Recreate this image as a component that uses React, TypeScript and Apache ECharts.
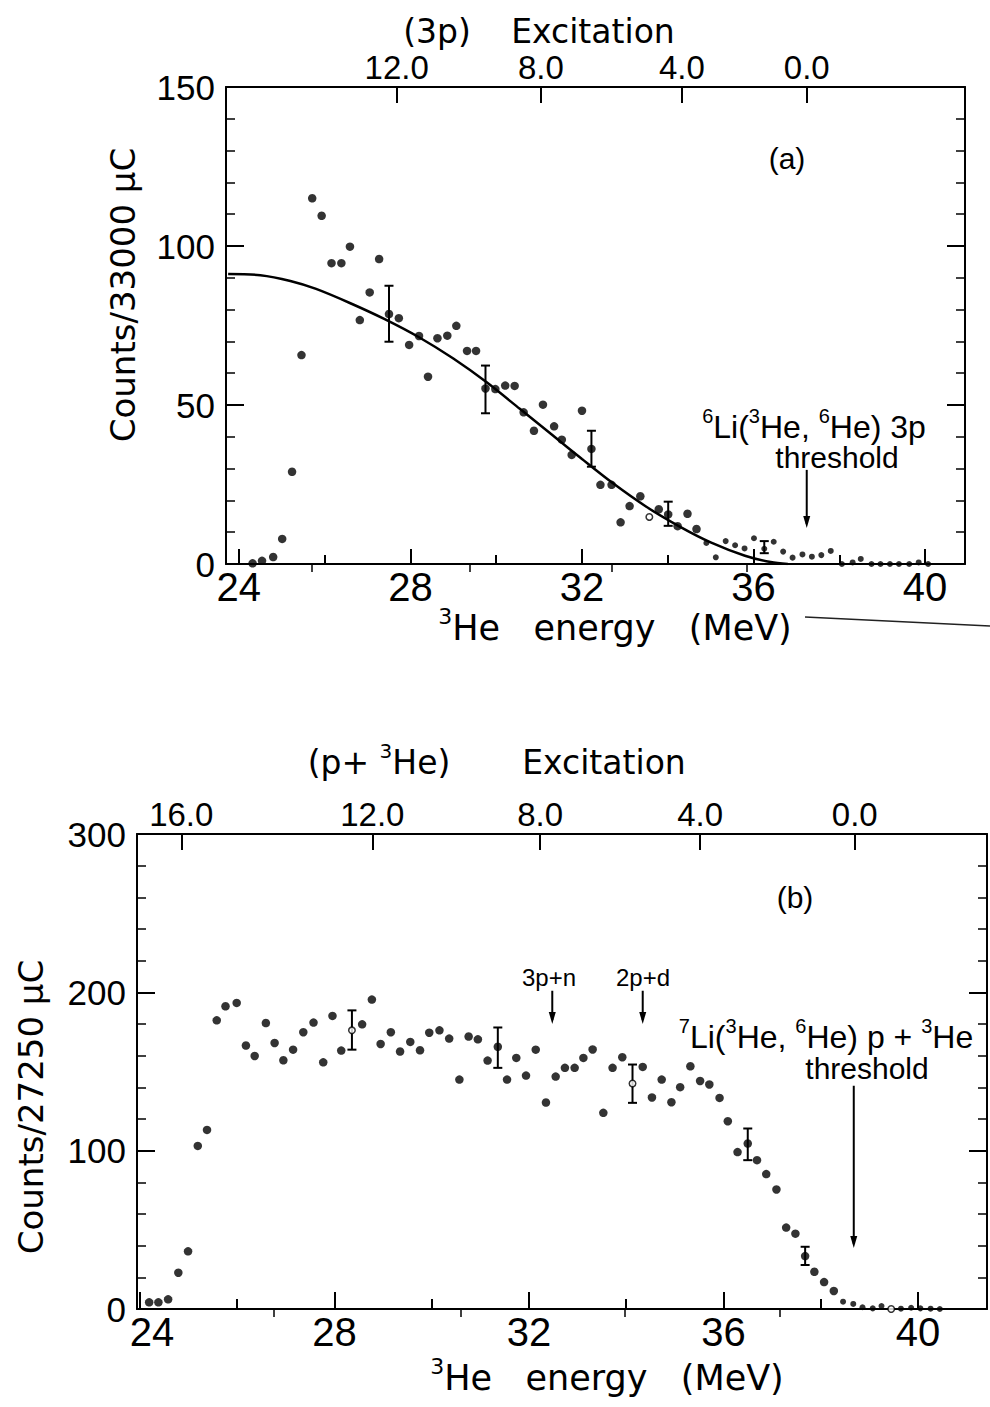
import React, { useEffect, useRef } from 'react';
import * as echarts from 'echarts';

// ---------- Panel (a): 6Li(3He,6He) ----------
const pointsA: number[][] = [
  [24.32, 0.2], [24.54, 1.0], [24.80, 2.2], [25.01, 7.9], [25.24, 29.0], [25.46, 65.7],
  [25.71, 115.0], [25.93, 109.5], [26.16, 94.6], [26.39, 94.6], [26.59, 99.8], [26.82, 76.7],
  [27.05, 85.4], [27.27, 95.9], [27.50, 78.6], [27.73, 77.3], [27.97, 68.9], [28.20, 71.7],
  [28.41, 58.9], [28.63, 71.0], [28.86, 71.8], [29.07, 74.9], [29.32, 67.0], [29.53, 67.0],
  [29.75, 55.2], [29.98, 55.0], [30.21, 56.1], [30.43, 56.0], [30.64, 47.7], [30.88, 41.9],
  [31.09, 50.1], [31.35, 43.3], [31.53, 39.1], [31.76, 34.3], [32.00, 48.2], [32.22, 36.2],
  [32.43, 24.9], [32.69, 24.9], [32.90, 13.1], [33.11, 18.2], [33.36, 21.3], [33.79, 17.2],
  [34.01, 15.6], [34.23, 11.9], [34.46, 15.8], [34.67, 11.0], [34.90, 6.6], [35.12, 2.1],
  [35.35, 7.2], [35.57, 5.9], [35.79, 4.9], [36.01, 8.1], [36.25, 4.8], [36.47, 7.0],
  [36.69, 3.9], [36.91, 2.0], [37.14, 3.0], [37.36, 2.3], [37.58, 2.8], [37.80, 4.1],
  [38.06, 0], [38.31, 0.5], [38.50, 1.6], [38.75, 0], [38.96, 0], [39.18, 0], [39.39, 0],
  [39.63, 0], [39.85, 0.5], [40.07, 0],
];
const openA: number[][] = [[33.57, 14.8]];
const curveA: number[][] = [
  [23.75, 91.2], [24.5, 90.8], [25.2, 89.0], [25.8, 86.5], [26.6, 82.0], [27.4, 77.0],
  [28.2, 71.3], [29.0, 64.6], [29.77, 57.2], [30.55, 48.8], [31.33, 40.3], [32.0, 33.0],
  [32.7, 25.6], [33.5, 18.0], [34.3, 11.6], [35.0, 6.8], [35.8, 2.6], [36.4, 0.6], [36.8, 0],
];
const errorsA: number[][] = [
  [27.50, 69.9, 87.5], [29.75, 47.4, 62.4], [32.22, 30.6, 41.9], [34.01, 12.0, 19.6], [36.25, 3.4, 7.2],
];
const arrowsA: number[][] = [[37.24, 29.6, 11.3]];

// ---------- Panel (b): 7Li(3He,6He) ----------
const pointsB: number[][] = [
  [24.19, 4.2], [24.38, 4.2], [24.58, 6.1], [24.79, 22.9], [24.99, 36.4], [25.19, 103.0],
  [25.38, 113.1], [25.58, 182.3], [25.76, 191.2], [25.99, 193.3], [26.18, 166.4], [26.36, 159.8],
  [26.59, 180.6], [26.77, 168.0], [26.95, 157.1], [27.15, 163.8], [27.36, 174.8], [27.57, 180.9],
  [27.77, 155.8], [27.96, 185.1], [28.14, 163.2], [28.57, 179.8], [28.77, 195.4],
  [28.95, 167.4], [29.16, 174.8], [29.35, 162.6], [29.56, 168.7], [29.76, 163.4], [29.95, 174.5],
  [30.16, 176.0], [30.36, 170.8], [30.57, 144.9], [30.76, 172.1], [30.95, 170.3], [31.15, 156.9],
  [31.36, 165.6], [31.55, 144.9], [31.74, 158.6], [31.94, 147.4], [32.14, 163.8], [32.35, 130.4],
  [32.55, 146.8], [32.74, 152.3], [32.94, 152.3], [33.12, 158.6], [33.31, 163.9], [33.53, 123.9],
  [33.72, 152.3], [33.92, 159.0], [34.34, 152.9], [34.53, 133.6], [34.73, 144.9],
  [34.93, 130.6], [35.11, 140.1], [35.32, 153.3], [35.52, 144.0], [35.71, 141.8], [35.92, 133.3],
  [36.09, 118.6], [36.29, 99.1], [36.50, 104.5], [36.69, 94.0], [36.88, 85.2], [37.09, 75.5],
  [37.29, 51.4], [37.48, 47.6], [37.68, 33.4], [37.87, 23.5], [38.07, 17.0], [38.27, 11.4],
  [38.46, 4.6], [38.67, 3.2], [38.86, 1.1], [39.07, 0.4], [39.25, 1.9], [39.65, 0.2],
  [39.86, 0.8], [40.05, 0.4], [40.26, 0.2], [40.45, 0],
];
const openB: number[][] = [[28.36, 176.0], [34.13, 142.4], [39.45, 0]];
const errorsB: number[][] = [
  [28.36, 163.8, 188.6], [31.36, 152.3, 177.8], [34.13, 130.2, 154.4], [36.50, 94.0, 114.0], [37.68, 27.8, 39.3],
];
const arrowsB: number[][] = [[32.48, 201, 180], [34.34, 201, 180], [38.68, 141, 38.5]];

// ---------- Axes ----------
const energyMajor = [24, 28, 32, 36, 40];
const energyMinor = [26, 30, 34, 38];
const energyRangeA = [23.7, 40.93];
const energyRangeB = [23.94, 41.42];
const countsA = { max: 150, step: 50 };
const countsB = { max: 300, step: 100 };
const excitationLabelsA = ['12.0', '8.0', '4.0', '0.0'];
const excitationMajorEnergyA = [27.68, 31.04, 34.33, 37.24];
const excitationMinorEnergyA = [25.70, 29.38, 32.69, 35.84];
const excitationLabelsB = ['16.0', '12.0', '8.0', '4.0', '0.0'];
const excitationMajorEnergyB = [24.85, 28.78, 32.23, 35.52, 38.70];
const excitationMinorEnergyB = [26.76, 30.59, 33.98, 37.16];

const FONT = '"Liberation Sans", Arial, sans-serif';
const WORD_FONT = '"DejaVu Sans", sans-serif';
const BLACK = '#000';

function nearestLabel(v: number, vals: number[], labels: string[]) {
  let bi = 0;
  let bd = Infinity;
  vals.forEach((x, i) => {
    const d = Math.abs(x - v);
    if (d < bd) { bd = d; bi = i; }
  });
  return labels[bi];
}

function xAxesFor(grid: number, range: number[], exMajor: number[], exMinor: number[], exLabels: string[],
  opts: { bMajorLen: number; bMinorLen: number; shiftFirst: number }) {
  const base = { type: 'value', gridIndex: grid, min: range[0], max: range[1], splitLine: { show: false } };
  const line = { show: true, onZero: false, lineStyle: { color: BLACK, width: 2 } };
  return [
    {
      ...base, position: 'bottom', axisLine: line,
      axisTick: { show: true, inside: true, length: opts.bMajorLen, customValues: energyMajor, lineStyle: { color: BLACK, width: 2 } },
      axisLabel: {
        show: true, customValues: energyMajor, margin: 3, color: BLACK, fontSize: 40, fontFamily: FONT,
        formatter: (v: number) => (Math.abs(v - energyMajor[0]) < 1e-6 && opts.shiftFirst ? '{s|' + energyMajor[0] + '}' : String(Math.round(v))),
        rich: { s: { fontSize: 40, fontFamily: FONT, color: BLACK, padding: [0, 0, 0, opts.shiftFirst * 2] } },
      },
    },
    {
      ...base, position: 'bottom', axisLine: { show: false },
      axisTick: { show: true, inside: true, length: opts.bMinorLen, customValues: energyMinor, lineStyle: { color: BLACK, width: 2 } },
      axisLabel: { show: false },
    },
    {
      ...base, position: 'top', axisLine: line,
      axisTick: { show: true, inside: true, length: 16, customValues: exMajor, lineStyle: { color: BLACK, width: 2 } },
      axisLabel: {
        show: true, customValues: exMajor, margin: 3, color: BLACK, fontSize: 33, fontFamily: FONT,
        formatter: (v: number) => nearestLabel(v, exMajor, exLabels),
      },
    },
    {
      ...base, position: 'top', axisLine: { show: false },
      axisTick: { show: true, inside: true, length: 8, customValues: exMinor, lineStyle: { color: BLACK, width: 1.5 } },
      axisLabel: { show: false },
    },
  ];
}

function yAxesFor(grid: number, counts: { max: number; step: number }, labelPadBottom: number) {
  const base = {
    type: 'value', gridIndex: grid, min: 0, max: counts.max, interval: counts.step,
    splitLine: { show: false },
    axisLine: { show: true, onZero: false, lineStyle: { color: BLACK, width: 2 } },
    axisTick: { show: true, inside: true, length: 18, lineStyle: { color: BLACK, width: 2 } },
    minorTick: { show: true, splitNumber: 5, length: 9, lineStyle: { color: BLACK, width: 1.5 } },
  };
  return [
    {
      ...base, position: 'left',
      axisLabel: { show: true, margin: 11, color: BLACK, fontSize: 35, fontFamily: FONT, padding: [0, 0, labelPadBottom, 0] },
    },
    { ...base, position: 'right', axisLabel: { show: false } },
  ];
}

const errorBarRender = (params: any, api: any) => {
  const x = api.value(0);
  const lo = api.coord([x, api.value(1)]);
  const hi = api.coord([x, api.value(2)]);
  const w = 4.5;
  const st = { stroke: BLACK, lineWidth: 2 };
  return {
    type: 'group',
    children: [
      { type: 'line', shape: { x1: lo[0], y1: lo[1], x2: hi[0], y2: hi[1] }, style: st },
      { type: 'line', shape: { x1: lo[0] - w, y1: lo[1], x2: lo[0] + w, y2: lo[1] }, style: st },
      { type: 'line', shape: { x1: hi[0] - w, y1: hi[1], x2: hi[0] + w, y2: hi[1] }, style: st },
    ],
  };
};

const arrowRender = (params: any, api: any) => {
  const x = api.value(0);
  const a = api.coord([x, api.value(1)]);
  const b = api.coord([x, api.value(2)]);
  return {
    type: 'group',
    children: [
      { type: 'line', shape: { x1: a[0], y1: a[1], x2: b[0], y2: b[1] - 4 }, style: { stroke: BLACK, lineWidth: 2 } },
      { type: 'polygon', shape: { points: [[b[0] - 3.5, b[1] - 12], [b[0] + 3.5, b[1] - 12], [b[0], b[1]]] }, style: { fill: BLACK } },
    ],
  };
};

function richText(text: string, x: number, y: number, size: number, family: string, extra: any = {}) {
  return {
    type: 'text', x, y, ...extra,
    style: {
      text, fontSize: size, fontFamily: family, fill: BLACK, align: 'center', verticalAlign: 'middle',
      lineHeight: Math.round(size * 1.3),
      rich: {
        sup: { fontSize: Math.round(size * 0.62), fontFamily: family, fill: BLACK, verticalAlign: 'top', lineHeight: Math.round(size * 0.62) },
      },
    },
  };
}

export default function App() {
  const ref = useRef<HTMLDivElement>(null);
  useEffect(() => {
    if (!ref.current) return;
    const chart = echarts.init(ref.current, null, { renderer: 'svg' });
    const xA = xAxesFor(0, energyRangeA, excitationMajorEnergyA, excitationMinorEnergyA, excitationLabelsA, { bMajorLen: 15, bMinorLen: 9, shiftFirst: 0 });
    const xB = xAxesFor(1, energyRangeB, excitationMajorEnergyB, excitationMinorEnergyB, excitationLabelsB, { bMajorLen: 17, bMinorLen: 10, shiftFirst: 12 });
    const yA = yAxesFor(0, countsA, 14);
    const yB = yAxesFor(1, countsB, 0);
    const symA = (v: number[]) => (v[0] > 34.8 ? 6 : 8.5);
    const symB = (v: number[]) => (v[0] > 38.3 ? 6 : 8.5);
    const option: any = {
      animation: false,
      backgroundColor: '#fff',
      grid: [
        { left: 226, top: 87, width: 739, height: 477, containLabel: false, outerBoundsMode: 'none' },
        { left: 137, top: 834, width: 850, height: 475, containLabel: false, outerBoundsMode: 'none' },
      ],
      xAxis: [...xA, ...xB],
      yAxis: [...yA, ...yB],
      series: [
        { type: 'scatter', xAxisIndex: 0, yAxisIndex: 0, data: pointsA, symbol: 'circle', symbolSize: symA, itemStyle: { color: BLACK }, z: 5 },
        { type: 'scatter', xAxisIndex: 0, yAxisIndex: 0, data: openA, symbol: 'circle', symbolSize: 6.5, itemStyle: { color: '#fff', borderColor: BLACK, borderWidth: 1.5 }, z: 6 },
        { type: 'line', xAxisIndex: 0, yAxisIndex: 0, data: curveA, smooth: 0.3, symbol: 'none', showSymbol: false, lineStyle: { color: BLACK, width: 2.5 }, z: 4 },
        { type: 'custom', xAxisIndex: 0, yAxisIndex: 0, data: errorsA, renderItem: errorBarRender, encode: { x: 0, y: [1, 2] }, z: 4 },
        { type: 'custom', xAxisIndex: 0, yAxisIndex: 0, data: arrowsA, renderItem: arrowRender, encode: { x: 0, y: [1, 2] }, z: 4 },
        { type: 'scatter', xAxisIndex: 4, yAxisIndex: 2, data: pointsB, symbol: 'circle', symbolSize: symB, itemStyle: { color: BLACK }, z: 5 },
        { type: 'scatter', xAxisIndex: 4, yAxisIndex: 2, data: openB, symbol: 'circle', symbolSize: 6.5, itemStyle: { color: '#fff', borderColor: BLACK, borderWidth: 1.5 }, z: 6 },
        { type: 'custom', xAxisIndex: 4, yAxisIndex: 2, data: errorsB, renderItem: errorBarRender, encode: { x: 0, y: [1, 2] }, z: 4 },
        { type: 'custom', xAxisIndex: 4, yAxisIndex: 2, data: arrowsB, renderItem: arrowRender, encode: { x: 0, y: [1, 2] }, z: 4 },
      ],
      graphic: [
        richText('(3p)', 437, 31, 33, WORD_FONT),
        richText('Excitation', 593, 31, 33, WORD_FONT),
        richText('(p+ {sup|3}He)', 379, 762, 33, WORD_FONT),
        richText('Excitation', 604, 762, 33, WORD_FONT),
        richText('Counts/33000 \u03bcC', 123, 295, 34, WORD_FONT, { rotation: Math.PI / 2 }),
        richText('Counts/27250 \u03bcC', 31, 1107, 34, WORD_FONT, { rotation: Math.PI / 2 }),
        richText('{sup|3}He   energy   (MeV)', 615, 628, 35, WORD_FONT),
        richText('{sup|3}He   energy   (MeV)', 607, 1378, 35, WORD_FONT),
        richText('(a)', 787, 158, 30, FONT),
        richText('{sup|6}Li({sup|3}He, {sup|6}He) 3p', 814, 427, 32, FONT),
        richText('threshold', 837, 457, 30, FONT),
        richText('(b)', 795, 897, 30, FONT),
        richText('3p+n', 549, 977, 24, FONT),
        richText('2p+d', 643, 977, 24, FONT),
        richText('{sup|7}Li({sup|3}He, {sup|6}He) p + {sup|3}He', 826, 1037, 32, FONT),
        richText('threshold', 867, 1068, 30, FONT),
        { type: 'line', shape: { x1: 805, y1: 617, x2: 990, y2: 626 }, style: { stroke: '#222', lineWidth: 1.5 } },
      ],
    };
    chart.setOption(option);
    return () => chart.dispose();
  }, []);
  return <div ref={ref} style={{ position: 'absolute', left: 0, top: 0, width: 990, height: 1407, background: '#fff' }} />;
}
